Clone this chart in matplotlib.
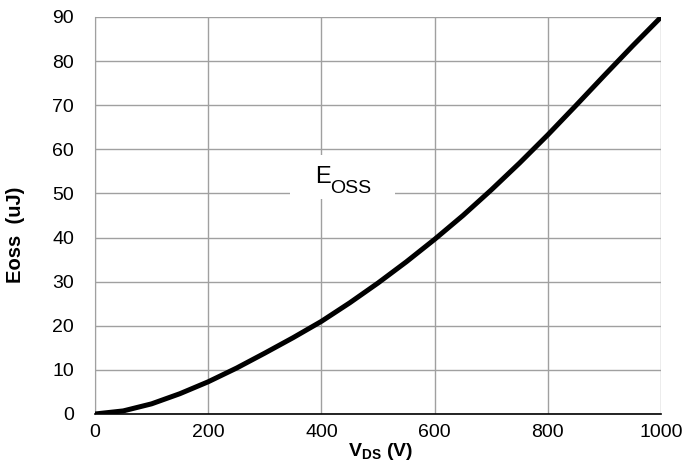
import matplotlib.pyplot as plt
from matplotlib.patches import Rectangle

plt.rcParams["font.family"] = ["Liberation Sans", "DejaVu Sans"]
plt.rcParams["mathtext.fontset"] = "custom"
plt.rcParams["mathtext.rm"] = "Liberation Sans"
plt.rcParams["mathtext.bf"] = "Liberation Sans:bold"

# V_DS (V) и Eoss (uJ)
vds = [0, 50, 100, 150, 200, 250, 300, 350, 400, 450, 500,
       550, 600, 650, 700, 750, 800, 850, 900, 950, 1000]
eoss = [0, 0.7, 2.3, 4.6, 7.3, 10.4, 13.8, 17.3, 21.0, 25.2, 29.7,
        34.5, 39.6, 45.0, 50.8, 56.9, 63.3, 70.0, 76.8, 83.5, 90.0]

x_ticks = [0, 200, 400, 600, 800, 1000]
y_ticks = [0, 10, 20, 30, 40, 50, 60, 70, 80, 90]


def main():
    fig = plt.figure(figsize=(6.83, 4.68), dpi=100)
    ax = fig.add_axes([0.139, 0.1154, 0.829, 0.8483])

    ax.plot(vds, eoss, color="black", linewidth=3.6, solid_capstyle="butt",
            solid_joinstyle="round", zorder=4)

    ax.set_xlim(0, 1000)
    ax.set_ylim(0, 90)
    ax.set_xticks(x_ticks)
    ax.set_yticks(y_ticks)
    ax.tick_params(length=0, labelsize=14)
    ax.tick_params(axis="x", pad=7)
    ax.tick_params(axis="y", pad=15)

    ax.grid(True, color="#a0a0a0", linewidth=1)
    ax.set_axisbelow(True)

    for side in ["top", "right"]:
        ax.spines[side].set_visible(False)
    ax.spines["left"].set_color("#a0a0a0")
    ax.spines["bottom"].set_color("black")
    ax.spines["bottom"].set_linewidth(1.2)

    ax.set_xlabel(r"V$_{\mathbf{DS}}$ (V)", fontsize=14, fontweight="bold")
    ax.xaxis.set_label_coords(0.505, -0.068)
    ax.set_ylabel("Eoss  (uJ)", fontsize=14.5, fontweight="bold")
    ax.yaxis.set_label_coords(-0.124, 0.451)

    # белая подложка под подписью кривой
    ax.add_patch(Rectangle((344, 48.7), 186, 10, facecolor="white",
                           edgecolor="none", zorder=2))
    ax.text(388.5, 52.3, "E", fontsize=17, ha="left", va="baseline", zorder=3)
    ax.text(415, 50.2, "OSS", fontsize=14, ha="left", va="baseline", zorder=3)

    plt.savefig("out.png", dpi=100)
    plt.close()


if __name__ == "__main__":
    main()
